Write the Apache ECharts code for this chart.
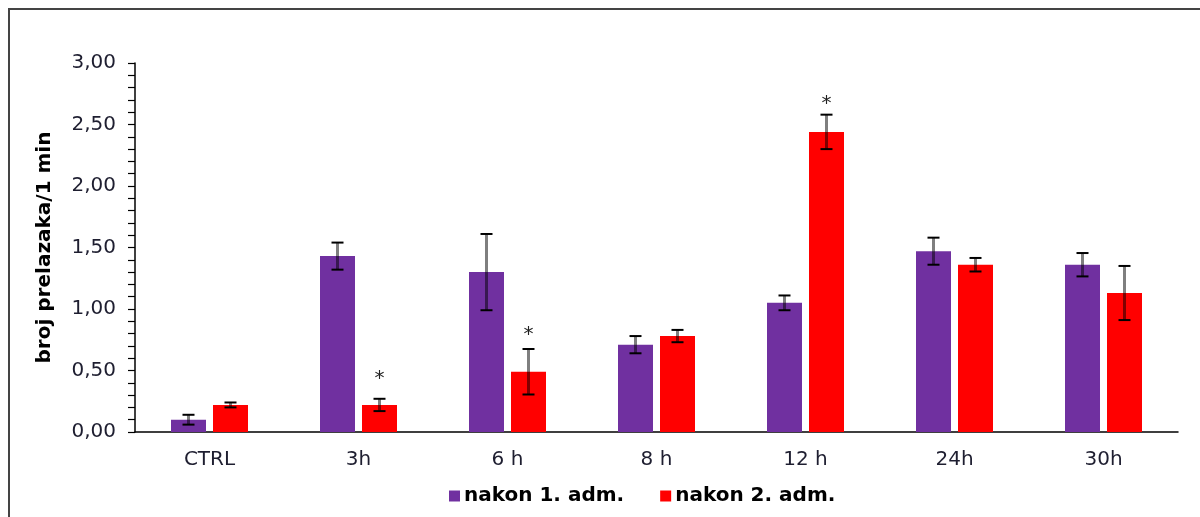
<!DOCTYPE html>
<html>
<head>
<meta charset="utf-8">
<script src="https://cdn.jsdelivr.net/npm/echarts@6/dist/echarts.min.js"></script>
<style>
html,body{margin:0;padding:0;background:#fff;}
#chart{width:1200px;height:517px;}
</style>
</head>
<body>
<div id="chart"></div>
<script>
// ---- data ----
const categories = ['CTRL', '3h', '6 h', '8 h', '12 h', '24h', '30h'];
const seriesNames = ['nakon 1. adm.', 'nakon 2. adm.'];
const adm1Mean = [0.10, 1.43, 1.30, 0.71, 1.05, 1.47, 1.36];
const adm1Err  = [0.04, 0.11, 0.31, 0.07, 0.06, 0.11, 0.095];
const adm2Mean = [0.22, 0.22, 0.49, 0.78, 2.44, 1.36, 1.13];
const adm2Err  = [0.02, 0.05, 0.185, 0.05, 0.14, 0.055, 0.22];
// significance markers (category index, y value of marker) for series 2
const starCats = [1, 2, 4];
const starVals = [0.445, 0.81, 2.685];
const yTickLabels = ['0,00', '0,50', '1,00', '1,50', '2,00', '2,50', '3,00'];
const yTitle = 'broj prelazaka/1 min';

const colors = ['#7030A0', '#FF0000'];
const BAR_W = 35, GAP = 7;
const OFF = (BAR_W + GAP) / 2;
const FONT = 'DejaVu Sans, Verdana, sans-serif';

function errSeries(means, errs, offset) {
  return {
    type: 'custom',
    z: 10,
    silent: true,
    data: means.map((m, i) => [i, m, errs[i]]),
    encode: { x: 0, y: 1 },
    renderItem: function (params, api) {
      const i = api.value(0), m = api.value(1), e = api.value(2);
      const t = api.coord([i, m + e]);
      const b = api.coord([i, m - e]);
      const x = t[0] + offset;
      const cw = 6;
      return {
        type: 'group',
        children: [
          { type: 'line', shape: { x1: x, y1: t[1], x2: x, y2: b[1] }, style: { stroke: 'rgba(0,0,0,0.5)', lineWidth: 3 } },
          { type: 'line', shape: { x1: x - cw, y1: t[1], x2: x + cw, y2: t[1] }, style: { stroke: '#000', lineWidth: 2 } },
          { type: 'line', shape: { x1: x - cw, y1: b[1], x2: x + cw, y2: b[1] }, style: { stroke: '#000', lineWidth: 2 } }
        ]
      };
    }
  };
}

const chart = echarts.init(document.getElementById('chart'));
chart.setOption({
  animation: false,
  backgroundColor: '#fff',
  graphic: [{
    type: 'rect',
    shape: { x: 9, y: 9, width: 1400, height: 800 },
    style: { fill: 'none', stroke: '#444', lineWidth: 2 },
    silent: true
  }],
  grid: { left: 135, right: 22, top: 63, bottom: 85 },
  legend: {
    data: seriesNames,
    left: 444,
    top: 481,
    icon: 'rect',
    itemWidth: 11,
    itemHeight: 11,
    itemGap: 36,
    textStyle: { fontFamily: FONT, fontWeight: 'bold', fontSize: 20, color: '#000', padding: [0, 0, 0, -1] }
  },
  xAxis: {
    type: 'category',
    data: categories,
    axisLine: { lineStyle: { color: '#000', width: 1.5 } },
    axisTick: { show: false },
    axisLabel: { fontFamily: FONT, fontSize: 20, color: '#1e1e30', margin: 18 }
  },
  yAxis: {
    type: 'value',
    min: 0, max: 3, interval: 0.5,
    name: yTitle,
    nameLocation: 'middle',
    nameGap: 80,
    nameTextStyle: { fontFamily: FONT, fontWeight: 'bold', fontSize: 20, color: '#000' },
    axisLine: { show: true, lineStyle: { color: '#000', width: 1.5 } },
    axisTick: { show: true, length: 7, lineStyle: { color: '#000', width: 1.2 } },
    minorTick: { show: true, splitNumber: 5, length: 7, lineStyle: { color: '#000', width: 1.2 } },
    splitLine: { show: false },
    axisLabel: {
      fontFamily: FONT, fontSize: 20, color: '#1e1e30', margin: 19,
      formatter: function (v) { return yTickLabels[Math.round(v / 0.5)]; }
    }
  },
  series: [
    { name: seriesNames[0], type: 'bar', data: adm1Mean, barWidth: BAR_W, barGap: (GAP / BAR_W * 100) + '%', itemStyle: { color: colors[0] } },
    { name: seriesNames[1], type: 'bar', data: adm2Mean, barWidth: BAR_W, itemStyle: { color: colors[1] } },
    errSeries(adm1Mean, adm1Err, -OFF),
    errSeries(adm2Mean, adm2Err, OFF),
    {
      type: 'custom',
      z: 11,
      silent: true,
      data: starCats.map((c, k) => [c, starVals[k]]),
      encode: { x: 0, y: 1 },
      renderItem: function (params, api) {
        const p = api.coord([api.value(0), api.value(1)]);
        return {
          type: 'text',
          style: { text: '*', x: p[0] + OFF, y: p[1] + 2, align: 'center', verticalAlign: 'middle', font: '20px ' + FONT, fill: '#222' }
        };
      }
    }
  ]
});
</script>
</body>
</html>
